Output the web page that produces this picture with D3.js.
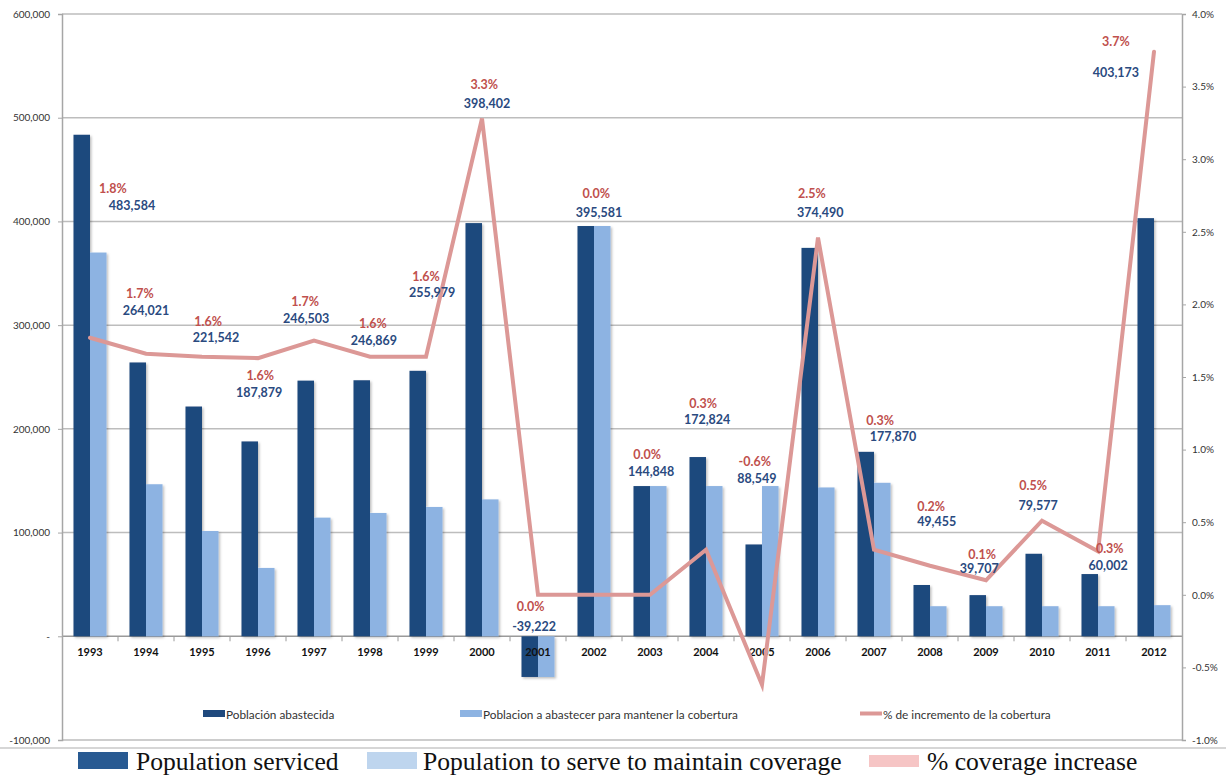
<!DOCTYPE html>
<html>
<head>
<meta charset="utf-8">
<script src="https://cdn.jsdelivr.net/npm/d3@7"></script>
<style>
  body { margin: 0; background: #fff; }
  svg { display: block; }
  .axis text { font-family: Lato, "Liberation Sans", sans-serif; }
</style>
</head>
<body>
<div id="chart"></div>
<script>
var years = ["1993", "1994", "1995", "1996", "1997", "1998", "1999", "2000", "2001", "2002",
             "2003", "2004", "2005", "2006", "2007", "2008", "2009", "2010", "2011", "2012"];
// Población abastecida
var served = [483584, 264021, 221542, 187879, 246503, 246869, 255979, 398402, -39222, 395581,
              144848, 172824, 88549, 374490, 177870, 49455, 39707, 79577, 60002, 403173];
// Poblacion a abastecer para mantener la cobertura
var toServe = [370000, 146600, 101500, 65900, 114400, 118900, 124700, 132000, -39222, 395581,
               144848, 144848, 144848, 143500, 148000, 29000, 29000, 29000, 29000, 30000];
// % de incremento de la cobertura
var coverage = [0.0177, 0.0166, 0.0164, 0.0163, 0.0175, 0.0164, 0.0164, 0.0328, 0.0, 0.0,
                0.0, 0.0031, -0.0062, 0.0246, 0.0031, 0.002, 0.001, 0.0051, 0.003, 0.0374];
var coverageLabels = ["1.8%", "1.7%", "1.6%", "1.6%", "1.7%", "1.6%", "1.6%", "3.3%", "0.0%", "0.0%",
                      "0.0%", "0.3%", "-0.6%", "2.5%", "0.3%", "0.2%", "0.1%", "0.5%", "0.3%", "3.7%"];
var leftTicks = [-100000, 0, 100000, 200000, 300000, 400000, 500000, 600000];
var rightTicks = [-0.01, -0.005, 0, 0.005, 0.01, 0.015, 0.02, 0.025, 0.03, 0.035, 0.04];
var legendEs = ["Población abastecida", "Poblacion a abastecer para mantener la cobertura",
                "% de incremento de la cobertura"];
var legendEn = ["Population serviced", "Population to serve to maintain coverage", "% coverage increase"];

// hand-placed data labels:
// [pct label x shift, pct label y, value label x shift, value label y] (shift in bands, y in left-axis units)
var labelPlace = [
  [0.41, 432000, 0.75, 415600], [-0.11, 330800, 0.0, 314400], [0.11, 303800, 0.25, 288300],
  [0.04, 251700, 0.02, 235300], [-0.16, 323000, -0.14, 306700], [0.05, 301800, 0.07, 285400],
  [0.0, 347200, 0.11, 331700], [0.04, 532300, 0.09, 514000], [-0.13, 28900, -0.07, 9600],
  [0.04, 427200, 0.09, 408900], [-0.05, 175500, 0.02, 159100], [-0.05, 224700, 0.02, 209300],
  [-0.13, 168800, -0.09, 152400], [-0.11, 427200, 0.04, 408900], [0.11, 208300, 0.34, 192900],
  [0.02, 125400, 0.12, 110900], [-0.07, 79100, -0.12, 65600], [-0.16, 145600, -0.07, 126300],
  [0.21, 84900, 0.18, 68500], [-0.68, 573800, -0.68, 543900]
];

var W = 1226, H = 776;
var geom = {L: 62, R: 1182, T: 14, B: 740};
var darkBlue = "#1f497d", lightBlue = "#8db3e2", pink = "#dc9896";
var fmt = function(v) {return d3.format(",")(v).replace("\u2212", "-");};

var svg = d3.select("#chart").append("svg")
  .attr("width", W)
  .attr("height", H);

var defs = svg.append("defs");
var shadow = defs.append("filter").attr("id", "shadow")
  .attr("x", "-20%").attr("y", "-5%").attr("width", "150%").attr("height", "115%");
shadow.append("feDropShadow")
  .attr("dx", 1.5).attr("dy", 1.5).attr("stdDeviation", 1)
  .attr("flood-color", "#000").attr("flood-opacity", 0.25);

var x = d3.scaleBand()
  .domain(years)
  .range([geom.L, geom.R]);
var y = d3.scaleLinear()
  .domain([-100000, 600000])
  .range([geom.B, geom.T]);
var yPct = d3.scaleLinear()
  .domain([-0.01, 0.04])
  .range([geom.B, geom.T]);
var barW = x.bandwidth() * 0.295;

// gridlines
svg.append("g").selectAll("line").data(leftTicks)
  .enter().append("line")
  .attr("x1", geom.L).attr("x2", geom.R)
  .attr("y1", function(d) {return y(d);})
  .attr("y2", function(d) {return y(d);})
  .style("stroke", function(d) {return d == 0 ? "#9a9a9a" : "#bdbdbd";})
  .style("stroke-width", 1.5);

// left axis
var yAxis = d3.axisLeft(y)
  .tickValues(leftTicks)
  .tickSize(4)
  .tickPadding(8)
  .tickFormat(function(d) {return d == 0 ? "-" : fmt(d);});
var gl = svg.append("g")
  .attr("class", "axis axis-y")
  .attr("transform", "translate(" + geom.L + ",0)")
  .call(yAxis);
gl.select(".domain").style("stroke", "#a6a6a6").style("stroke-width", 1.5);
gl.selectAll(".tick line").style("stroke", "#a6a6a6");
gl.selectAll("text").style("font-size", "10px").style("fill", "#333");

// right axis
var yAxisR = d3.axisRight(yPct)
  .tickValues(rightTicks)
  .tickSize(4)
  .tickPadding(6)
  .tickFormat(function(d) {return d3.format(".1%")(d).replace("\u2212", "-");});
var gr = svg.append("g")
  .attr("class", "axis axis-y2")
  .attr("transform", "translate(" + geom.R + ",0)")
  .call(yAxisR);
gr.select(".domain").style("stroke", "#a6a6a6").style("stroke-width", 1.5);
gr.selectAll(".tick line").style("stroke", "#a6a6a6");
gr.selectAll("text").style("font-size", "10px").style("fill", "#333");

// category ticks on the zero line
svg.append("g").selectAll("line").data(years.slice(1))
  .enter().append("line")
  .attr("x1", function(d) {return x(d);})
  .attr("x2", function(d) {return x(d);})
  .attr("y1", y(0)).attr("y2", y(0) + 5)
  .style("stroke", "#9a9a9a");

// bars
var bars = svg.append("g").attr("filter", "url(#shadow)");
bars.selectAll(".bar-served").data(years)
  .enter().append("rect")
  .attr("class", "bar-served")
  .attr("x", function(d) {return x(d) + x.bandwidth() / 2 - barW;})
  .attr("width", barW)
  .attr("y", function(d, i) {return y(Math.max(0, served[i]));})
  .attr("height", function(d, i) {return Math.abs(y(served[i]) - y(0));})
  .style("fill", darkBlue);
bars.selectAll(".bar-toserve").data(years)
  .enter().append("rect")
  .attr("class", "bar-toserve")
  .attr("x", function(d) {return x(d) + x.bandwidth() / 2;})
  .attr("width", barW)
  .attr("y", function(d, i) {return y(Math.max(0, toServe[i]));})
  .attr("height", function(d, i) {return Math.abs(y(toServe[i]) - y(0));})
  .style("fill", lightBlue);

// year labels (on top of the 2001 bars, as in the original)
svg.append("g").selectAll("text").data(years)
  .enter().append("text")
  .attr("x", function(d) {return x(d) + x.bandwidth() / 2;})
  .attr("y", y(0) + 20)
  .attr("text-anchor", "middle")
  .style("font-family", "Lato, 'Liberation Sans', sans-serif")
  .style("font-weight", "bold")
  .style("font-size", "11px")
  .style("fill", "#111")
  .text(function(d) {return d;});

// coverage line
var line = d3.line()
  .x(function(d, i) {return x(years[i]) + x.bandwidth() / 2;})
  .y(function(d) {return yPct(d);});
svg.append("path")
  .datum(coverage)
  .attr("d", line)
  .style("fill", "none")
  .style("stroke", pink)
  .style("stroke-width", 4)
  .style("stroke-linecap", "round");

// data labels
var labels = svg.append("g")
  .style("font-family", "Lato, 'Liberation Sans', sans-serif")
  .style("font-weight", "bold")
  .style("font-size", "12.5px")
  .attr("text-anchor", "middle");
labels.selectAll(".pct").data(years)
  .enter().append("text")
  .attr("class", "pct")
  .attr("x", function(d, i) {return x(d) + x.bandwidth() * (0.5 + labelPlace[i][0]);})
  .attr("y", function(d, i) {return y(labelPlace[i][1]);})
  .attr("dy", "0.35em")
  .style("fill", "#c0504d")
  .text(function(d, i) {return coverageLabels[i];});
labels.selectAll(".val").data(years)
  .enter().append("text")
  .attr("class", "val")
  .attr("x", function(d, i) {return x(d) + x.bandwidth() * (0.5 + labelPlace[i][2]);})
  .attr("y", function(d, i) {return y(labelPlace[i][3]);})
  .attr("dy", "0.35em")
  .style("fill", "#2a4a7f")
  .text(function(d, i) {return fmt(served[i]);});

// inner (spanish) legend
var legX = [203, 460, 860];
var leg = svg.append("g")
  .style("font-family", "Lato, 'Liberation Sans', sans-serif")
  .style("font-size", "11.8px");
leg.selectAll("rect").data([darkBlue, lightBlue])
  .enter().append("rect")
  .attr("x", function(d, i) {return legX[i];})
  .attr("y", 710).attr("width", 22).attr("height", 7)
  .style("fill", function(d) {return d;});
leg.append("line")
  .attr("x1", legX[2]).attr("x2", legX[2] + 22)
  .attr("y1", 713.5).attr("y2", 713.5)
  .style("stroke", pink).style("stroke-width", 4);
leg.selectAll("text").data(legendEs)
  .enter().append("text")
  .attr("x", function(d, i) {return legX[i] + 23;})
  .attr("y", 715).attr("dy", "0.35em")
  .style("fill", "#333")
  .text(function(d) {return d;});

// separator below the chart
svg.append("line")
  .attr("x1", 0).attr("x2", W)
  .attr("y1", 748).attr("y2", 748)
  .style("stroke", "#c8c8c8").style("stroke-width", 1.5);

// english legend
var enX = [78, 367, 869];
var enCol = ["#285a92", "#bed5ee", "#f6c5c5"];
var en = svg.append("g")
  .style("font-family", "'Liberation Serif', 'DejaVu Serif', serif")
  .style("font-size", "25.6px");
en.selectAll("rect").data(enCol)
  .enter().append("rect")
  .attr("x", function(d, i) {return enX[i];})
  .attr("y", function(d, i) {return i == 2 ? 755 : 752;})
  .attr("width", 50)
  .attr("height", function(d, i) {return i == 2 ? 12 : 17;})
  .style("fill", function(d) {return d;});
en.selectAll("text").data(legendEn)
  .enter().append("text")
  .attr("x", function(d, i) {return enX[i] + (i == 1 ? 56 : 58);})
  .attr("y", 770)
  .style("fill", "#111")
  .text(function(d) {return d;});
</script>
</body>
</html>
